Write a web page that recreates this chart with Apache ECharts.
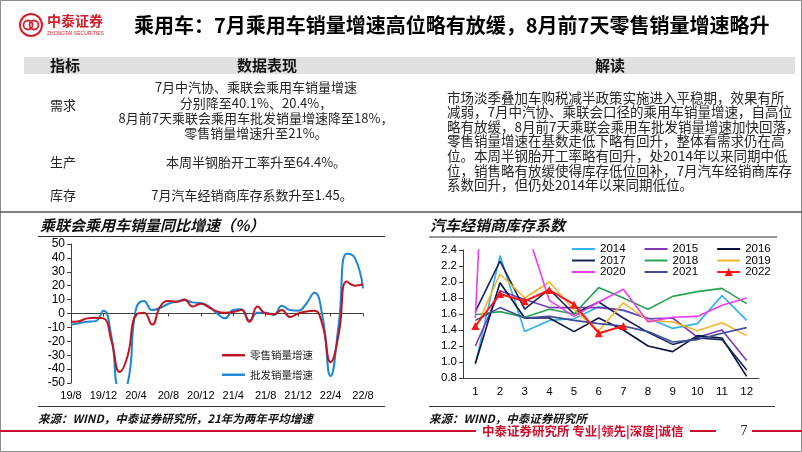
<!DOCTYPE html>
<html><head><meta charset="utf-8">
<script src="https://cdn.jsdelivr.net/npm/echarts@6/dist/echarts.min.js"></script>
<style>html,body{margin:0;padding:0;background:#fff}#c{width:802px;height:452px}</style>
</head><body><div id="c"></div>
<script>
// ---------- data ----------
var months = ['19/8','19/9','19/10','19/11','19/12','20/1','20/2','20/3','20/4','20/5','20/6','20/7','20/8','20/9','20/10','20/11','20/12','21/1','21/2','21/3','21/4','21/5','21/6','21/7','21/8','21/9','21/10','21/11','21/12','22/1','22/2','22/3','22/4','22/5','22/6','22/7','22/8'];
var retail = [-6,-5.5,-3.5,-3,-3.5,-20,-42,-30,-1,0.5,-8,5,9,8.5,10,5,7,4.5,1.5,0.5,1,2.5,-6,5,0,-0.5,2.5,-2.5,0,1.5,2,-8,-35,-15,23,20,21];
var wholesale = [-8,-7,-6,-5.5,2,-17,-53,-50,3,9,2.5,4,7,8.5,9.5,8,7.5,5,0,-3.5,2.5,3,-5,0.5,0.5,-1,5.5,2.5,2,7,15,-2,-45,-8,43,40,18];
var leftSeriesNames = ['零售销量增速','批发销量增速'];

var invMonths = ['1','2','3','4','5','6','7','8','9','10','11','12'];
var inv2014 = [0.97,2.33,1.38,1.52,1.54,1.69,1.64,1.55,1.42,1.48,1.83,1.52];
var inv2015 = [1.20,1.89,1.78,1.68,1.68,1.68,1.65,1.54,1.55,1.31,1.40,1.02];
var inv2016 = [0.98,1.99,1.55,1.55,1.38,1.55,1.40,1.20,1.13,1.33,1.30,0.82];
var inv2017 = [1.63,2.26,1.66,1.91,1.60,1.75,1.55,1.37,1.22,1.30,1.28,0.90];
var inv2018 = [1.59,1.63,1.56,1.66,1.60,1.93,1.80,1.66,1.82,1.88,1.92,1.73];
var inv2019 = [1.41,2.10,1.80,2.00,1.65,1.39,1.74,1.52,1.50,1.39,1.49,1.33];
var inv2020 = [1.55,8.0,2.73,1.77,1.57,1.75,1.91,1.50,1.56,1.57,1.71,1.80];
var inv2021 = [1.52,1.68,1.55,1.57,1.52,1.48,1.45,1.38,1.25,1.28,1.36,1.43];
var inv2022 = [1.45,1.85,1.76,1.90,1.72,1.36,1.45];
var invYears = ['2014','2015','2016','2017','2018','2019','2020','2021','2022'];
var invColors = ['#2fb3e8','#7d3ab8','#0a1240','#16245c','#27a352','#f7b52a','#ea3ded','#3e4b9a','#ff1515'];
var invData = [inv2014,inv2015,inv2016,inv2017,inv2018,inv2019,inv2020,inv2021,inv2022];

// ---------- texts ----------
var titleText = '乘用车：7月乘用车销量增速高位略有放缓，8月前7天零售销量增速略升';
var rowDemand = ['7月中汽协、乘联会乘用车销量增速','分别降至40.1%、20.4%，','8月前7天乘联会乘用车批发销量增速降至18%，','零售销量增速升至21%。'];
var rowProd = '本周半钢胎开工率升至64.4%。';
var rowInv = '7月汽车经销商库存系数升至1.45。';
var interp = ['市场淡季叠加车购税减半政策实施进入平稳期，效果有所','减弱，7月中汽协、乘联会口径的乘用车销量增速，自高位','略有放缓，8月前7天乘联会乘用车批发销量增速加快回落，','零售销量增速在基数走低下略有回升，整体看需求仍在高','位。本周半钢胎开工率略有回升，处2014年以来同期中低','位，销售略有放缓使得库存低位回补，7月汽车经销商库存','系数回升，但仍处2014年以来同期低位。'];

var CJK = '"Noto Sans CJK SC"';
var LAT = '"Liberation Sans", Arial';
var LINE_ICON = 'path://M0,3L23,3L23,5L0,5Z';
var LINE_ICON_THICK = 'path://M0,2.8L23,2.8L23,5.2L0,5.2Z';
var TRI_ICON = 'path://M0,3.1L23,3.1L23,4.9L0,4.9Z M11.5,0L15.5,8L7.5,8Z';

function txt(x, y, s, font, fill, align) {
  return {type:'text', x:x, y:y, silent:true, style:{text:s, font:font, fill:fill||'#000', align:align||'left', textAlign:align||'left', verticalAlign:'middle', textVerticalAlign:'middle'}};
}
function ln(x1,y1,x2,y2,c,w){
  return {type:'line', silent:true, shape:{x1:x1,y1:y1,x2:x2,y2:y2}, style:{stroke:c, lineWidth:w}};
}

var g = [];
g.push({type:'rect', silent:true, shape:{x:0.5,y:0.5,width:801,height:451}, style:{fill:'none', stroke:'#8c8c8c', lineWidth:1}});
// logo
g.push({type:'circle', silent:true, shape:{cx:31,cy:25,r:11}, style:{fill:'none', stroke:'#d0202e', lineWidth:2}});
g.push({type:'circle', silent:true, shape:{cx:28,cy:25,r:4.5}, style:{fill:'none', stroke:'#d0202e', lineWidth:1.8}});
g.push({type:'circle', silent:true, shape:{cx:34,cy:25,r:4.5}, style:{fill:'none', stroke:'#d0202e', lineWidth:1.8}});
g.push(txt(47, 21, '中泰证券', 'bold 14px ' + CJK, '#d0202e'));
g.push(txt(47, 33.5, 'ZHONGTAI SECURITIES', '5px ' + LAT, '#d0202e'));
// title
g.push(txt(134, 25, titleText, 'bold 20px ' + CJK, '#000'));
// table header
g.push({type:'rect', silent:true, shape:{x:24,y:57,width:771,height:17}, style:{fill:'#e0e0e0'}});
g.push(txt(65, 65.5, '指标', 'bold 15px ' + CJK, '#111', 'center'));
g.push(txt(267, 65.5, '数据表现', 'bold 15px ' + CJK, '#111', 'center'));
g.push(txt(610, 65.5, '解读', 'bold 15px ' + CJK, '#111', 'center'));
// rows
g.push(txt(63, 105, '需求', '13px ' + CJK, '#262626', 'center'));
var dy = [87, 103, 118.5, 133.5];
for (var i = 0; i < rowDemand.length; i++) g.push(txt(256, dy[i], rowDemand[i], '13px ' + CJK, '#262626', 'center'));
g.push(txt(63, 162, '生产', '13px ' + CJK, '#262626', 'center'));
g.push(txt(256, 162, rowProd, '13px ' + CJK, '#262626', 'center'));
g.push(txt(63, 195, '库存', '13px ' + CJK, '#262626', 'center'));
g.push(txt(252, 195, rowInv, '13px ' + CJK, '#262626', 'center'));
// interpretation
for (var j = 0; j < interp.length; j++) g.push(txt(447, 97.5 + j * 14.6, interp[j], '13.5px ' + CJK, '#262626'));
// separator
g.push(ln(0, 212, 802, 212, '#555', 1.5));
// chart titles
g.push(txt(40, 225, '乘联会乘用车销量同比增速（%）', 'italic bold 15px ' + CJK, '#111'));
g.push(ln(38, 236.5, 385, 236.5, '#333', 1.2));
g.push(txt(430, 225, '汽车经销商库存系数', 'italic bold 15px ' + CJK, '#111'));
g.push(ln(429, 237, 777, 237, '#333', 1.2));
// bottom lines + sources
g.push(ln(38, 406.5, 385, 406.5, '#333', 1.2));
g.push(ln(429, 406.5, 775, 406.5, '#333', 1.2));
g.push(txt(38, 419, '来源：WIND，中泰证券研究所，21年为两年平均增速', 'italic bold 11.5px ' + CJK, '#111'));
g.push(txt(429, 419, '来源：WIND，中泰证券研究所', 'italic bold 11.5px ' + CJK, '#111'));
// footer
g.push(ln(0, 431, 476, 431, '#c8102e', 2));
g.push(txt(482, 431, '中泰证券研究所 专业|领先|深度|诚信', 'bold 12.5px ' + CJK, '#c8102e'));
g.push(ln(690, 431, 716, 431, '#c8102e', 2));
g.push(txt(744, 431, '7', '14px "Liberation Serif"', '#222', 'center'));
g.push(ln(752, 431, 802, 431, '#c8102e', 2));

var series = [
  {name:leftSeriesNames[0], type:'line', xAxisIndex:0, yAxisIndex:0, data:retail, smooth:0.5, symbol:'none', lineStyle:{color:'#c0141c', width:2}, itemStyle:{color:'#c0141c'}, z:3},
  {name:leftSeriesNames[1], type:'line', xAxisIndex:0, yAxisIndex:0, data:wholesale, smooth:0.5, symbol:'none', lineStyle:{color:'#1e84d4', width:2}, itemStyle:{color:'#1e84d4'}, z:2}
];
for (var k = 0; k < invYears.length; k++) {
  var is22 = invYears[k] === '2022';
  series.push({name:invYears[k], type:'line', xAxisIndex:2, yAxisIndex:1, data:invData[k],
    symbol: is22 ? 'triangle' : 'none', symbolSize: is22 ? 8 : 0, showSymbol: is22,
    lineStyle:{color:invColors[k], width: is22 ? 2 : 1.6}, itemStyle:{color:invColors[k]}, z: is22 ? 5 : 3, clip:true});
}

function legendRow(names, top) {
  return {data:names.map(function(n){return {name:n, icon: n === '2022' ? TRI_ICON : LINE_ICON};}),
    left:572, top:top, itemWidth:23, itemHeight:8, itemGap:19, padding:0,
    textStyle:{fontFamily:LAT, fontSize:11.5, color:'#000'}, selectedMode:false};
}

var option = {
  animation:false,
  grid:[{left:71, right:439, top:244, bottom:69}, {left:463, right:43, top:250, bottom:74}],
  legend:[
    {data:leftSeriesNames.map(function(n){return {name:n, icon:LINE_ICON_THICK};}), orient:'vertical', left:222, top:350, itemWidth:23, itemHeight:8, itemGap:9, padding:0, textStyle:{fontFamily:CJK, fontSize:10.5, color:'#222'}, selectedMode:false},
    legendRow(['2014','2015','2016'], 243),
    legendRow(['2017','2018','2019'], 254.5),
    legendRow(['2020','2021','2022'], 266)
  ],
  xAxis:[
    {gridIndex:0, type:'category', data:months, boundaryGap:false, axisLine:{show:false, onZero:false}, axisTick:{show:false},
      axisLabel:{interval:3, margin:7, fontFamily:LAT, fontSize:11, color:'#000'}},
    {gridIndex:0, type:'category', data:months, boundaryGap:false, position:'bottom', axisLine:{show:true, onZero:true, lineStyle:{color:'#404040', width:1}},
      axisTick:{show:true, interval:3, length:3}, axisLabel:{show:false}},
    {gridIndex:1, type:'category', data:invMonths, boundaryGap:true, axisLine:{lineStyle:{color:'#404040'}}, axisTick:{length:4, lineStyle:{color:'#404040'}},
      axisLabel:{margin:8, fontFamily:LAT, fontSize:11.5, color:'#000'}}
  ],
  yAxis:[
    {gridIndex:0, type:'value', min:-50, max:50, interval:10, axisLine:{show:true, lineStyle:{color:'#404040'}}, axisTick:{show:true, length:4}, splitLine:{show:false},
      axisLabel:{margin:6, fontFamily:LAT, fontSize:12, color:'#000'}},
    {gridIndex:1, type:'value', min:0.8, max:2.4, interval:0.2, axisLine:{show:true, lineStyle:{color:'#404040'}}, axisTick:{show:true, length:4}, splitLine:{show:false},
      axisLabel:{margin:6, fontFamily:LAT, fontSize:11.5, color:'#000', formatter:function(v){return v.toFixed(1);}}}
  ],
  series:series,
  graphic:{elements:g}
};
var chart = echarts.init(document.getElementById('c'), null, {renderer:'canvas'});
chart.setOption(option);
</script></body></html>
